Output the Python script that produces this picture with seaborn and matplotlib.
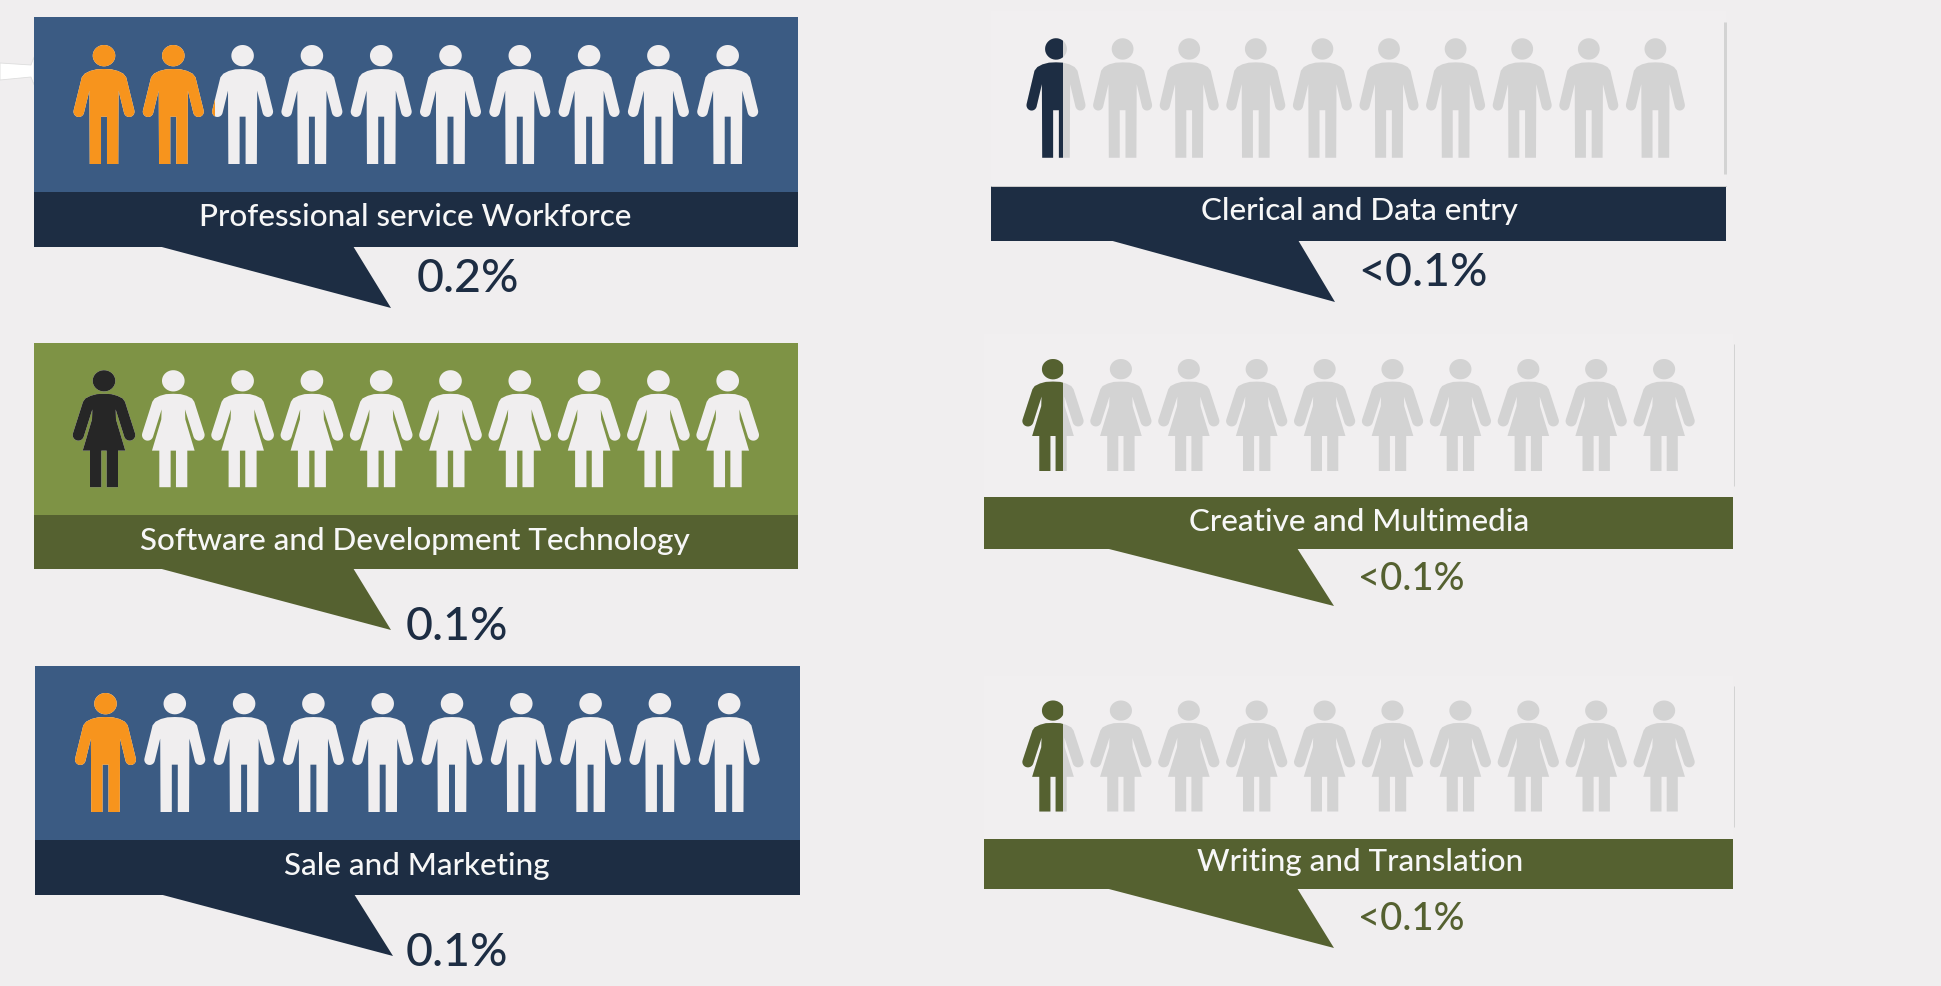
import numpy as np
import pandas as pd
import matplotlib
matplotlib.use('Agg')
import matplotlib.pyplot as plt
from matplotlib.patches import Rectangle, Polygon
from matplotlib.path import Path
import seaborn as sns

# chart data
left_labels = ['Professional service Workforce', 'Software and Development Technology', 'Sale and Marketing']
left_values = ['0.2%', '0.1%', '0.1%']
left_filled = [2.05, 1.0, 1.0]
left_kinds = ['man', 'woman', 'man']

right_labels = ['Clerical and Data entry', 'Creative and Multimedia', 'Writing and Translation']
right_values = ['<0.1%', '<0.1%', '<0.1%']
right_filled = [0.62, 0.665, 0.665]
right_kinds = ['man', 'woman', 'woman']

n_icons = 10

# colours
bg = '#f0eeef'
blue = '#3b5b83'
navy = '#1d2d43'
green = '#7e9345'
olive = '#556130'
orange = '#f7941d'
pale = '#f0eeef'
grey = '#d3d3d3'
black = '#262626'
panel = '#f1eff0'

# panel layout in pixels: rect x0, x1, top, band top, band bottom, tail x0, x1, tip x, tip y
left_boxes = [
    (34, 798, 17, 192, 247, 162, 353, 391, 308),
    (34, 798, 343, 515, 569, 162, 353, 391, 630),
    (35, 800, 666, 840, 895, 163, 354, 393, 956),
]
right_boxes = [
    (991, 1726, 11, 186, 241, 1113, 1298, 1335, 302),
    (984, 1733, 334, 497, 549, 1109, 1297, 1334, 606),
    (984, 1733, 676, 839, 889, 1109, 1297, 1334, 948),
]
# first icon centre x, spacing, centre y, height, width
left_icons = [(104, 69.3, 104.5, 119, 61), (104, 69.3, 428.7, 117, 62), (105.5, 69.3, 752.5, 119, 61)]
right_icons = [(1056, 66.6, 98, 119.5, 59), (1053, 67.9, 415, 112, 60.6), (1053, 67.9, 756, 111, 60.6)]
left_text = [(415, 217, 468, 279), (415, 541, 457, 627), (417, 866, 457, 953)]
right_text = [(1359, 211, 1423, 273), (1359, 522, 1411, 579), (1360, 862, 1411, 919)]
# thin grey rules at the right of the light panels: x, y0, y1, width
right_rules = [(1725, 22, 174, 3), (1733.5, 344, 486, 1), (1733.5, 686, 827, 1)]


def arc(cx, cy, r, a0, a1, n=14):
    t = np.radians(np.linspace(a0, a1, n))
    return np.column_stack([cx + r * np.cos(t), cy + r * np.sin(t)])


def person_marker(kind, width_ratio=1.0):
    # outline, right half then mirrored, y pointing down
    if kind == 'man':
        head = (0, 167, 34, 32)
        half = np.vstack([
            [[0, 207], [22, 208], [42, 213], [58, 221], [67, 232]],
            arc(76, 335, 16, -15, 165),
            [[44, 272], [43, 492], [9, 492], [9, 350]],
        ])
    else:
        head = (0, 122, 34, 32)
        half = np.vstack([
            [[0, 161], [22, 162], [40, 167], [56, 175], [63, 185]],
            arc(77, 285, 17, -18, 162),
            [[35, 208], [36, 238], [64, 332], [42, 332], [42, 442], [8, 442], [8, 332]],
        ])
    body = np.vstack([half, (half * [-1, 1])[::-1]])
    hx, hy, rx, ry = head
    t = np.radians(np.linspace(0, 360, 40))
    circle = np.column_stack([hx + rx * np.cos(t), hy + ry * np.sin(t)])

    top = circle[:, 1].min()
    bottom = body[:, 1].max()
    mid = (top + bottom) / 2
    half_h = (bottom - top) / 2
    # y flipped, marker space points up
    verts = []
    codes = []
    for part in (circle, body):
        p = np.column_stack([part[:, 0] * width_ratio / half_h, -(part[:, 1] - mid) / half_h])
        verts.extend(p.tolist() + [p[0].tolist()])
        codes.extend([Path.MOVETO] + [Path.LINETO] * (len(p) - 1) + [Path.CLOSEPOLY])
    return Path(verts, codes)


def draw_panel(ax, box, icons, text, kind, filled, label, value, top_col, band_col, on_col, off_col, val_col, val_size):
    x0, x1, top, band_top, band_bot, tx0, tx1, tipx, tipy = box
    ax.add_patch(Rectangle((x0, top), x1 - x0, band_top - top, fc=top_col, ec='none', zorder=1))
    ax.add_patch(Rectangle((x0, band_top), x1 - x0, band_bot - band_top, fc=band_col, ec='none', zorder=1))
    # tail starts a little inside the band so its thin tip shows at the right place
    ax.add_patch(Polygon([(tx0 - 4, band_bot - 1), (tx1, band_bot - 1), (tipx, tipy)], fc=band_col, ec='none', zorder=1))

    cx0, step, cy, h, w = icons
    base_w = 184 / 3 if kind == 'man' else 186 / 3
    marker = person_marker(kind, (w / base_w) * (h / (119 if kind == 'man' else 117.3)) ** -1)
    size = (h * 0.72) ** 2
    df = pd.DataFrame({'x': [cx0 + step * i for i in range(n_icons)], 'y': [cy] * n_icons})

    sns.scatterplot(data=df, x='x', y='y', marker=marker, s=size, color=off_col,
                    edgecolor='none', linewidth=0, legend=False, zorder=2, ax=ax)

    # coloured people on top, cut off at the fill level
    whole = int(filled)
    edge = df['x'].iloc[whole] - w / 2 + (filled - whole) * w
    sns.scatterplot(data=df.iloc[:whole + 1], x='x', y='y', marker=marker, s=size, color=on_col,
                    edgecolor='none', linewidth=0, legend=False, zorder=3, ax=ax)
    ax.collections[-1].set_clip_path(Rectangle((0, 0), edge, 986, transform=ax.transData))

    ax.text(text[0], text[1], label, color='#f7f7f7', fontsize=22.6, fontweight='medium',
            ha='center', va='center', zorder=4)
    ax.text(text[2], text[3], value, color=val_col, fontsize=val_size, fontweight='medium',
            ha='center', va='center', zorder=4)


sns.set_theme(style='white')
plt.rcParams['font.family'] = ['Lato', 'DejaVu Sans']

fig = plt.figure(figsize=(19.41, 9.86), dpi=100, facecolor=bg)
ax = fig.add_axes([0, 0, 1, 1])
ax.set_facecolor(bg)
ax.set_xlim(0, 1941)
ax.set_ylim(986, 0)
ax.axis('off')

# the bit of arrow coming in from the left
ax.add_patch(Polygon([(0, 63), (31, 65), (34, 57), (34, 85), (31, 77), (0, 80)],
                     fc='white', ec='#dddddd', lw=0.6, zorder=0.5))

left_styles = [(blue, navy, orange, pale), (green, olive, black, pale), (blue, navy, orange, pale)]
for i in range(3):
    top_col, band_col, on_col, off_col = left_styles[i]
    draw_panel(ax, left_boxes[i], left_icons[i], left_text[i], left_kinds[i], left_filled[i],
               left_labels[i], left_values[i], top_col, band_col, on_col, off_col, navy, 33.5)

right_styles = [(navy, navy, 33.5), (olive, olive, 27.5), (olive, olive, 27.5)]
for i in range(3):
    band_col, on_col, val_size = right_styles[i]
    draw_panel(ax, right_boxes[i], right_icons[i], right_text[i], right_kinds[i], right_filled[i],
               right_labels[i], right_values[i], panel, band_col, on_col, grey, band_col, val_size)
    x, y0, y1, lw = right_rules[i]
    ax.plot([x, x], [y0, y1], color=grey, lw=lw * 0.72, solid_capstyle='butt', zorder=2)

# faint line on top of the Clerical band
ax.plot([991, 1726], [185.5, 185.5], color='#c9c9c9', lw=0.72, zorder=2)

ax.set_xlim(0, 1941)
ax.set_ylim(986, 0)
fig.savefig('out.png', dpi=100, facecolor=bg)
plt.close(fig)
